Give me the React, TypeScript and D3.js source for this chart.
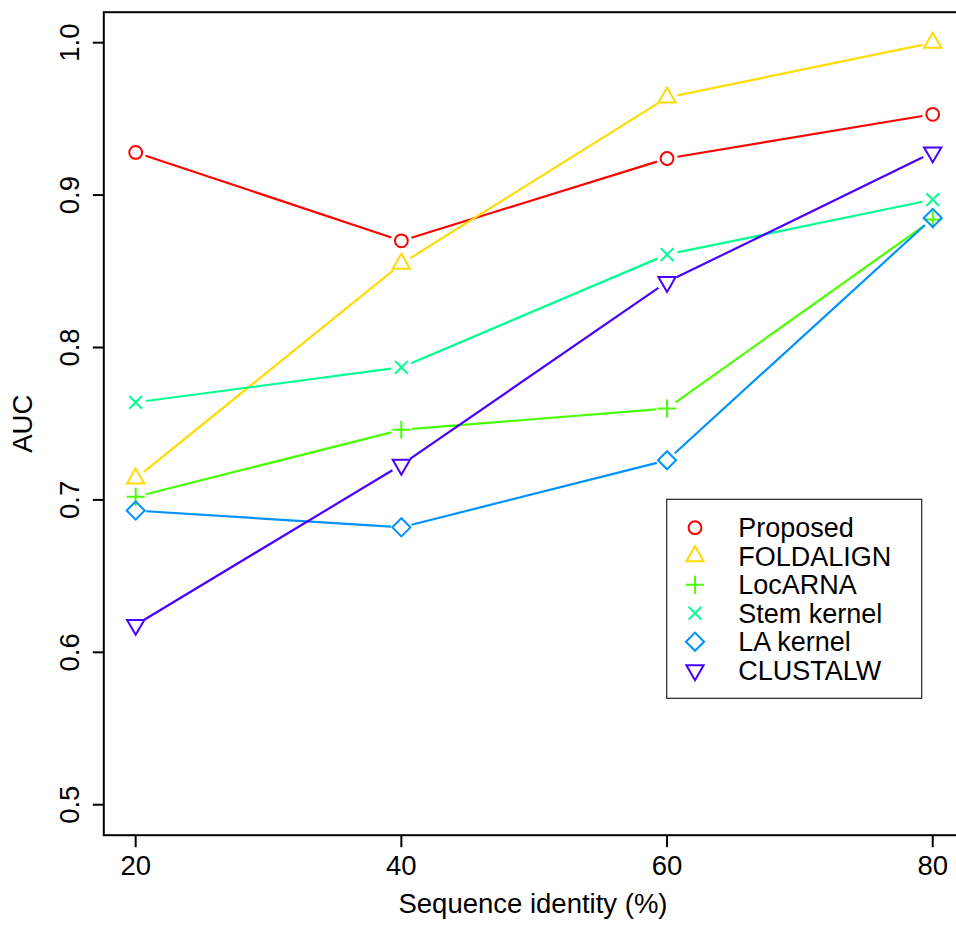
import React from "react";
import * as d3 from "d3";

const xValues = [20, 40, 60, 80];
const seriesNames = ["Proposed", "FOLDALIGN", "LocARNA", "Stem kernel", "LA kernel", "CLUSTALW"];
const proposed = [0.928, 0.870, 0.924, 0.953];
const foldalign = [0.714, 0.855, 0.964, 1.0];
const locarna = [0.702, 0.746, 0.760, 0.884];
const stemKernel = [0.764, 0.787, 0.861, 0.897];
const laKernel = [0.693, 0.682, 0.726, 0.885];
const clustalw = [0.618, 0.723, 0.843, 0.928];
const seriesValues = [proposed, foldalign, locarna, stemKernel, laKernel, clustalw];
const seriesColors = ["#FF0000", "#FFDB00", "#49FF00", "#00FF92", "#0092FF", "#4900FF"];
const seriesShapes = ["circle", "triUp", "plus", "cross", "diamond", "triDown"];
const xTicks = [20, 40, 60, 80];
const yTicks = [0.5, 0.6, 0.7, 0.8, 0.9, 1.0];

const W = 956;
const H = 926;
const FONT = "'Liberation Sans', Arial, Helvetica, sans-serif";
const R = 6.4;

function Marker({ shape, x, y, color }: { shape: string; x: number; y: number; color: string }) {
  const sw = 2;
  if (shape === "circle") return <circle cx={x} cy={y} r={R} fill="none" stroke={color} strokeWidth={sw} />;
  if (shape === "triUp" || shape === "triDown") {
    const r = 1.555 * R, xc = 1.347 * R, yc = 0.778 * R;
    const s = shape === "triUp" ? 1 : -1;
    const pts = [[x, y - s * r], [x + xc, y + s * yc], [x - xc, y + s * yc]];
    return <polygon points={pts.map((p) => p.join(",")).join(" ")} fill="none" stroke={color} strokeWidth={sw} />;
  }
  if (shape === "plus") {
    const a = Math.SQRT2 * R;
    return <path d={`M${x - a},${y}H${x + a}M${x},${y - a}V${y + a}`} stroke={color} strokeWidth={sw} fill="none" />;
  }
  if (shape === "cross") {
    const a = R;
    return <path d={`M${x - a},${y - a}L${x + a},${y + a}M${x - a},${y + a}L${x + a},${y - a}`} stroke={color} strokeWidth={sw} fill="none" />;
  }
  const a = Math.SQRT2 * R;
  return <polygon points={`${x},${y - a} ${x + a},${y} ${x},${y + a} ${x - a},${y}`} fill="none" stroke={color} strokeWidth={sw} />;
}

export default function App() {
  const x = d3.scaleLinear().domain([17.6, 82.4]).range([103.8, 964.6]);
  const y = d3.scaleLinear().domain([0.48, 1.02]).range([835.2, 12.2]);
  const left = x.range()[0], right = x.range()[1];
  const top = y.range()[1], bottom = y.range()[0];
  const gap = 10.5;

  return (
    <div style={{ position: "fixed", left: 0, top: 0 }}>
      <svg width={W} height={H} style={{ display: "block", background: "#fff" }} fontFamily={FONT}>
        <rect x={0} y={0} width={W} height={H} fill="#fff" />
        {seriesValues.map((vals, si) => (
          <g key={"l" + si}>
            {vals.slice(1).map((v, i) => {
              const x0 = x(xValues[i]), y0 = y(vals[i]);
              const x1 = x(xValues[i + 1]), y1 = y(v);
              const dx = x1 - x0, dy = y1 - y0;
              const len = Math.hypot(dx, dy);
              const ux = dx / len, uy = dy / len;
              return (
                <line key={i} x1={x0 + ux * gap} y1={y0 + uy * gap} x2={x1 - ux * gap} y2={y1 - uy * gap}
                  stroke={seriesColors[si]} strokeWidth={2.2} />
              );
            })}
            {vals.map((v, i) => (
              <Marker key={"m" + i} shape={seriesShapes[si]} x={x(xValues[i])} y={y(v)} color={seriesColors[si]} />
            ))}
          </g>
        ))}
        <rect x={left} y={top} width={right - left} height={bottom - top} fill="none" stroke="#000" strokeWidth={2} />
        {xTicks.map((t) => (
          <g key={"xt" + t}>
            <line x1={x(t)} x2={x(t)} y1={bottom} y2={bottom + 12} stroke="#000" strokeWidth={2} />
            <text x={x(t)} y={875} textAnchor="middle" fontSize={27.5} fill="#000">{t}</text>
          </g>
        ))}
        {yTicks.map((t) => (
          <g key={"yt" + t}>
            <line x1={left} x2={left - 11} y1={y(t)} y2={y(t)} stroke="#000" strokeWidth={2} />
            <text transform={`translate(79,${y(t)}) rotate(-90)`} textAnchor="middle" fontSize={27.5} fill="#000">
              {t.toFixed(1)}
            </text>
          </g>
        ))}
        <text x={533} y={913} textAnchor="middle" fontSize={27.5} fill="#000">Sequence identity (%)</text>
        <text transform={`translate(31.5,${(top + bottom) / 2}) rotate(-90)`} textAnchor="middle" fontSize={27.5} fill="#000">AUC</text>
        <rect x={666.7} y={499.3} width={255} height={199} fill="#fff" stroke="#222" strokeWidth={1.2} />
        {seriesNames.map((name, i) => {
          const ly = 527.7 + i * 28.5;
          return (
            <g key={"lg" + i}>
              <Marker shape={seriesShapes[i]} x={695} y={ly} color={seriesColors[i]} />
              <text x={738.3} y={ly + 9.5} fontSize={27} fill="#000">{name}</text>
            </g>
          );
        })}
      </svg>
    </div>
  );
}
